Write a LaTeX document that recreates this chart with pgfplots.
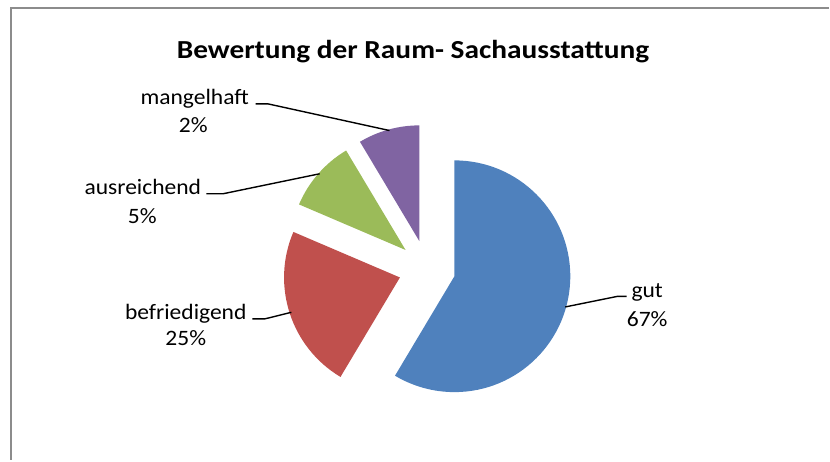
\documentclass[border=0pt]{standalone}
\usepackage{pgfplots}
\pgfplotsset{compat=1.18}
\usepackage{pgfplotstable}
\usepackage{fontspec}
\setmainfont{Carlito}

\definecolor{cgut}{HTML}{4F81BD}
\definecolor{cbef}{HTML}{C0504D}
\definecolor{caus}{HTML}{9BBB59}
\definecolor{cman}{HTML}{8064A2}
\definecolor{frame}{HTML}{8C8C8C}

% share = drawn size of the slice (of 70), pct = printed label
\pgfplotstableread{
label        share pct
gut          41    67
befriedigend 16    25
ausreichend  7     5
mangelhaft   6     2
}\piedata

% exploded slice: centre 427.5/269, shift 28.5, radius 116 (pixel units)
\newcommand\pieslice[3]{%
  \fill[#3] (axis cs:427.5,269) ++({(#1+(#2))/2}:28.5pt) -- ++(#1:116pt)
    arc[start angle=#1, end angle=#2, radius=116pt] -- cycle;}

\begin{document}
\begin{tikzpicture}
\pgfplotstablegetelem{0}{share}\of\piedata \pgfmathsetmacro\wA{\pgfplotsretval/70*360}
\pgfplotstablegetelem{1}{share}\of\piedata \pgfmathsetmacro\wB{\pgfplotsretval/70*360}
\pgfplotstablegetelem{2}{share}\of\piedata \pgfmathsetmacro\wC{\pgfplotsretval/70*360}
\pgfplotstablegetelem{3}{share}\of\piedata \pgfmathsetmacro\wD{\pgfplotsretval/70*360}
\pgfmathsetmacro\aB{90-\wA}
\pgfmathsetmacro\aC{\aB-\wB}
\pgfmathsetmacro\aD{\aC-\wC}
\pgfmathsetmacro\aE{\aD-\wD}
\begin{axis}[
    x=1pt, y=1pt,
    y dir=reverse,
    xmin=0, xmax=830,
    ymin=0, ymax=461,
    hide axis,
    clip=false,
]
\path (axis cs:0,0) rectangle (axis cs:830,461);
% chart area frame (only top and left visible)
\draw[frame, line width=2pt] (axis cs:830,8) -- (axis cs:11,8) -- (axis cs:11,461);

\pieslice{90}{\aB}{cgut}
\pieslice{\aB}{\aC}{cbef}
\pieslice{\aC}{\aD}{caus}
\pieslice{\aD}{\aE}{cman}

% title
\node[anchor=base, inner sep=0pt, xscale=1.13, font=\fontsize{26}{30}\selectfont\bfseries]
  at (axis cs:413.5,59) {Bewertung der Raum- Sachausstattung};

% leader lines
\draw[line width=1.4pt] (axis cs:566,307.3) -- (axis cs:618.3,296.7) -- (axis cs:627.3,296.7);
\draw[line width=1.4pt] (axis cs:252.7,319.3) -- (axis cs:265,319.3) -- (axis cs:291.7,312.7);
\draw[line width=1.4pt] (axis cs:206.7,194) -- (axis cs:223.3,194) -- (axis cs:320,174);
\draw[line width=1.4pt] (axis cs:256,104) -- (axis cs:268.3,104) -- (axis cs:390,130.7);

% data labels
\begin{scope}[every node/.style={anchor=base, inner sep=0pt, xscale=1.07, font=\fontsize{22}{28}\selectfont}]
\node at (axis cs:648,297.5) {gut};
\node at (axis cs:648,326.5) {67\%};
\node at (axis cs:186,319.5) {befriedigend};
\node at (axis cs:186,346) {25\%};
\node at (axis cs:143,195) {ausreichend};
\node at (axis cs:142.5,223.5) {5\%};
\node at (axis cs:195,104.5) {mangelhaft};
\node at (axis cs:193.5,133) {2\%};
\end{scope}
\end{axis}
\end{tikzpicture}
\end{document}
